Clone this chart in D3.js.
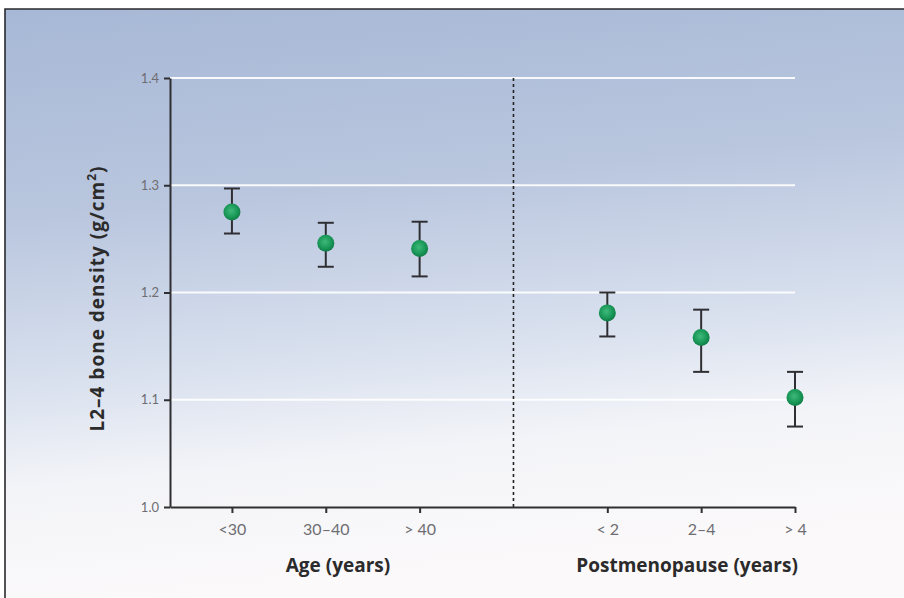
<!DOCTYPE html>
<html>
<head>
<meta charset="utf-8">
<script src="https://cdn.jsdelivr.net/npm/d3@7"></script>
<style>
  body { margin: 0; background: #fff; }
  svg { display: block; }
  .tick text { font-family: "Lato", "Open Sans", sans-serif; fill: #6e6e72; }
  .axis-title { font-family: "Open Sans", "Lato", sans-serif; font-weight: 700; fill: #2b2b2b; }
</style>
</head>
<body>
<div id="chart"></div>
<script>
// data
const categories = ["<30", "30\u201340", "> 40", "< 2", "2\u20134", "> 4"];
const slots = [0, 1, 2, 4, 5, 6];          // slot 3 holds the divider
const means = [1.275, 1.246, 1.241, 1.181, 1.158, 1.102];
const upper = [1.297, 1.265, 1.266, 1.200, 1.184, 1.126];
const lower = [1.255, 1.224, 1.215, 1.159, 1.126, 1.075];
const yTicks = [1.0, 1.1, 1.2, 1.3, 1.4];
const groupTitles = ["Age (years)", "Postmenopause (years)"];
const groupCentres = [1.13, 4.85];         // in slot units

const width = 904, height = 598;

const svg = d3.select("#chart").append("svg")
    .attr("width", width)
    .attr("height", height);

// background gradient
const defs = svg.append("defs");
const bg = defs.append("linearGradient")
    .attr("id", "bg").attr("x1", 0).attr("y1", 0).attr("x2", 0.15).attr("y2", 1);
bg.append("stop").attr("offset", "0%").attr("stop-color", "#a7b8d6");
bg.append("stop").attr("offset", "35%").attr("stop-color", "#b9c6de");
bg.append("stop").attr("offset", "62%").attr("stop-color", "#d8e0ee");
bg.append("stop").attr("offset", "80%").attr("stop-color", "#f3f4f8");
bg.append("stop").attr("offset", "100%").attr("stop-color", "#fbf9fa");

const dot = defs.append("radialGradient")
    .attr("id", "dot").attr("cx", "45%").attr("cy", "42%").attr("r", "60%");
dot.append("stop").attr("offset", "0%").attr("stop-color", "#3fb97a");
dot.append("stop").attr("offset", "60%").attr("stop-color", "#1b9a5a");
dot.append("stop").attr("offset", "100%").attr("stop-color", "#0e7a44");

svg.append("rect")
    .attr("x", 5).attr("y", 9)
    .attr("width", width - 5).attr("height", height - 9)
    .attr("fill", "url(#bg)");

// frame lines (top and left)
svg.append("path")
    .attr("d", `M5,${height} V9 H${width}`)
    .attr("fill", "none")
    .attr("stroke", "#2a2a2e")
    .attr("stroke-width", 1.6);

// scales
const xScale = d3.scaleLinear().domain([-0.66, 6]).range([170, 795]);
const yScale = d3.scaleLinear().domain([1.0, 1.4]).range([507, 78]);

// gridlines
svg.append("g")
    .selectAll("line")
    .data(yTicks.filter(d => d > 1.0))
    .join("line")
        .attr("x1", xScale(-0.66)).attr("x2", xScale(6))
        .attr("y1", d => yScale(d)).attr("y2", d => yScale(d))
        .attr("stroke", "#ffffff")
        .attr("stroke-opacity", 0.9)
        .attr("stroke-width", 2);

// divider
svg.append("line")
    .attr("x1", xScale(3)).attr("x2", xScale(3))
    .attr("y1", yScale(1.4)).attr("y2", yScale(1.0))
    .attr("stroke", "#222")
    .attr("stroke-width", 1.6)
    .attr("stroke-dasharray", "3,3");

// left axis
const leftAxis = d3.axisLeft(yScale)
    .tickValues(yTicks)
    .tickFormat(d3.format(".1f"))
    .tickSize(6)
    .tickSizeOuter(0)
    .tickPadding(5);

const gy = svg.append("g")
    .attr("transform", `translate(${xScale(-0.66)},0)`)
    .call(leftAxis);
gy.select(".domain").attr("stroke", "#2f2f33").attr("stroke-width", 2);
gy.selectAll(".tick line").attr("stroke", "#2f2f33").attr("stroke-width", 2);
gy.selectAll(".tick text").attr("font-size", 13);

// bottom axis
const bottomAxis = d3.axisBottom(xScale)
    .tickValues(slots)
    .tickFormat((d, i) => categories[i])
    .tickSize(6)
    .tickSizeOuter(0)
    .tickPadding(11);

const gx = svg.append("g")
    .attr("transform", `translate(0,${yScale(1.0)})`)
    .call(bottomAxis);
gx.select(".domain").attr("stroke", "#2f2f33").attr("stroke-width", 2);
gx.selectAll(".tick line").attr("stroke", "#2f2f33").attr("stroke-width", 2);
gx.selectAll(".tick text").attr("font-size", 16);

// error bars
const points = categories.map((c, i) => ({ c, s: slots[i], m: means[i], hi: upper[i], lo: lower[i] }));
const bars = svg.append("g").selectAll("g").data(points).join("g")
    .attr("stroke", "#2f2f33").attr("stroke-width", 2);
bars.append("line")
    .attr("x1", d => xScale(d.s)).attr("x2", d => xScale(d.s))
    .attr("y1", d => yScale(d.hi)).attr("y2", d => yScale(d.lo));
bars.append("line")
    .attr("x1", d => xScale(d.s) - 8).attr("x2", d => xScale(d.s) + 8)
    .attr("y1", d => yScale(d.hi)).attr("y2", d => yScale(d.hi));
bars.append("line")
    .attr("x1", d => xScale(d.s) - 8).attr("x2", d => xScale(d.s) + 8)
    .attr("y1", d => yScale(d.lo)).attr("y2", d => yScale(d.lo));

// points
svg.append("g").selectAll("circle").data(points).join("circle")
    .attr("cx", d => xScale(d.s))
    .attr("cy", d => yScale(d.m))
    .attr("r", 8.5)
    .attr("fill", "url(#dot)");

// axis titles
const yTitle = svg.append("text")
    .attr("class", "axis-title")
    .attr("transform", `translate(97,${yScale(1.2) + 6}) rotate(-90)`)
    .attr("text-anchor", "middle")
    .attr("dy", "0.35em")
    .attr("font-size", 19)
    .attr("letter-spacing", 1);
yTitle.append("tspan").text("L2\u20134 bone density (g/cm");
yTitle.append("tspan").attr("baseline-shift", "super").attr("font-size", 12).text("2");
yTitle.append("tspan").text(")");

svg.selectAll(".group-title")
    .data(groupTitles)
    .join("text")
        .attr("class", "axis-title")
        .attr("x", (d, i) => xScale(groupCentres[i]))
        .attr("y", 572)
        .attr("text-anchor", "middle")
        .attr("font-size", 19)
        .text(d => d);
</script>
</body>
</html>
